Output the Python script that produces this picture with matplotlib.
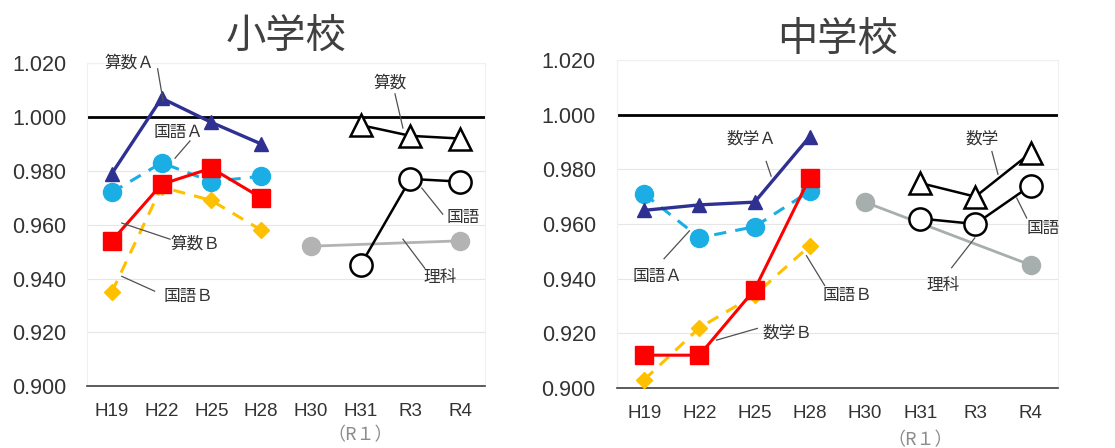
import numpy as np
import matplotlib as mpl
mpl.use("Agg")
import matplotlib.pyplot as plt
import matplotlib.transforms as mtransforms

plt.rcParams['font.family'] = ['Liberation Sans', 'Noto Sans CJK JP']

# ---- data ----
years = ["H19", "H22", "H25", "H28", "H30", "H31", "R3", "R4"]
nan = np.nan

# 小学校
es_math_a = [0.979, 1.007, 0.998, 0.990, nan, nan, nan, nan]
es_jpn_a = [0.972, 0.983, 0.976, 0.978, nan, nan, nan, nan]
es_math_b = [0.954, 0.975, 0.981, 0.970, nan, nan, nan, nan]
es_jpn_b = [0.935, 0.974, 0.969, 0.958, nan, nan, nan, nan]
es_math = [nan, nan, nan, nan, nan, 0.997, 0.993, 0.992]
es_jpn = [nan, nan, nan, nan, nan, 0.945, 0.977, 0.976]
es_sci = [nan, nan, nan, nan, 0.952, nan, nan, 0.954]

# 中学校
js_math_a = [0.965, 0.967, 0.968, 0.992, nan, nan, nan, nan]
js_jpn_a = [0.971, 0.955, 0.959, 0.972, nan, nan, nan, nan]
js_math_b = [0.912, 0.912, 0.936, 0.977, nan, nan, nan, nan]
js_jpn_b = [0.903, 0.922, 0.934, 0.952, nan, nan, nan, nan]
js_math = [nan, nan, nan, nan, nan, 0.975, 0.970, 0.986]
js_jpn = [nan, nan, nan, nan, nan, 0.962, 0.960, 0.974]
js_sci = [nan, nan, nan, nan, 0.968, nan, nan, 0.945]

NAVY = "#2e3192"
SKY = "#1aaee5"
RED = "#ff0000"
GOLD = "#ffc000"
TXT = "#404040"


def draw_series(ax, vals, **kw):
    x = np.arange(len(years))
    v = np.array(vals, dtype=float)
    m = ~np.isnan(v)
    ax.plot(x[m], v[m], **kw)


def label(ax, text, txy, p0, p1):
    ax.plot([p0[0], p1[0]], [p0[1], p1[1]], color="#505050", lw=0.9,
            zorder=6, clip_on=False)
    ax.text(txy[0], txy[1], text, ha="center", va="center", fontsize=12,
            color="#333333", family=['Liberation Sans', 'Noto Sans CJK JP'],
            zorder=7, clip_on=False)


def setup(ax, title, title_pad, r1_y):
    ax.set_xlim(-0.5, 7.5)
    ax.set_ylim(0.900, 1.020)
    ax.set_yticks(np.arange(0.900, 1.0201, 0.020))
    ax.set_yticklabels([f"{t:.3f}" for t in np.arange(0.900, 1.0201, 0.020)])
    ax.set_xticks(np.arange(len(years)))
    ax.set_xticklabels(years)
    ax.tick_params(axis="y", length=0, pad=15, labelsize=15.5, labelcolor="#333333")
    ax.tick_params(axis="x", length=0, pad=12, labelsize=13.5, labelcolor="#333333")
    ax.grid(axis="y", color="#e6e6e6", lw=0.8)
    ax.set_axisbelow(True)
    for s in ["left", "right", "top"]:
        ax.spines[s].set_color("#f0f0f0")
        ax.spines[s].set_linewidth(0.8)
    ax.spines["bottom"].set_color("#404040")
    ax.spines["bottom"].set_linewidth(1.2)
    ax.axhline(1.0, color="black", lw=2, zorder=2)
    ax.set_title(title, fontsize=29, color=TXT, pad=title_pad,
                 family=['Noto Sans CJK JP'])
    trans = mtransforms.blended_transform_factory(ax.transData, ax.transAxes)
    ax.text(5, r1_y, "（R１）", ha="center", va="center", fontsize=13,
            color="#8c8c8c", transform=trans, family=['Noto Sans CJK JP'])


def draw_block(ax, math_a, jpn_a, math_b, jpn_b, math, jpn, sci, sci_color):
    draw_series(ax, jpn_b, color=GOLD, lw=2.2, ls=(0, (4, 3)), marker="D",
                ms=8, zorder=3)
    draw_series(ax, jpn_a, color=SKY, lw=2.2, ls=(0, (4, 3)), marker="o",
                ms=13, zorder=3)
    draw_series(ax, math_b, color=RED, lw=2.2, marker="s", ms=13, zorder=4)
    draw_series(ax, math_a, color=NAVY, lw=2.4, marker="^", ms=10, zorder=5)
    draw_series(ax, sci, color=sci_color, lw=2, marker="o", ms=13, zorder=3)
    draw_series(ax, math, color="black", lw=1.8, marker="^", ms=16,
                mfc="white", mec="black", mew=1.8, zorder=4)
    draw_series(ax, jpn, color="black", lw=1.8, marker="o", ms=16,
                mfc="white", mec="black", mew=1.8, zorder=4)


fig = plt.figure(figsize=(11.15, 4.48), dpi=100)
ax1 = fig.add_axes([0.078, 0.138, 0.357, 0.721])
ax2 = fig.add_axes([0.553, 0.134, 0.396, 0.732])

setup(ax1, "小学校", 11, -0.152)
draw_block(ax1, es_math_a, es_jpn_a, es_math_b, es_jpn_b, es_math, es_jpn,
           es_sci, "#b3b3b3")
label(ax1, "算数Ａ", (0.36, 1.0201), (0.92, 1.0179), (1.03, 1.006))
label(ax1, "国語Ａ", (1.33, 0.9944), (1.57, 0.9911), (1.27, 0.9847))
label(ax1, "算数Ｂ", (1.67, 0.9531), (0.2, 0.9606), (1.17, 0.9546))
label(ax1, "国語Ｂ", (1.53, 0.9334), (0.2, 0.9408), (0.86, 0.9353))
label(ax1, "算数", (5.59, 1.0126), (5.69, 1.0086), (5.85, 0.9959))
label(ax1, "国語", (7.06, 0.9628), (6.23, 0.9736), (6.65, 0.9639))
label(ax1, "理科", (6.59, 0.9405), (5.85, 0.9546), (6.29, 0.9438))

setup(ax2, "中学校", 6, -0.158)
draw_block(ax2, js_math_a, js_jpn_a, js_math_b, js_jpn_b, js_math, js_jpn,
           js_sci, "#a7aeae")
label(ax2, "数学Ａ", (1.94, 0.9913), (2.21, 0.9829), (2.30, 0.9775))
label(ax2, "国語Ａ", (0.24, 0.9407), (0.36, 0.9473), (0.82, 0.9575))
label(ax2, "国語Ｂ", (3.68, 0.9338), (2.94, 0.9484), (3.27, 0.9375))
label(ax2, "数学Ｂ", (2.60, 0.9200), (1.31, 0.9175), (2.05, 0.9218))
label(ax2, "数学", (6.12, 0.9913), (6.30, 0.9865), (6.41, 0.9782))
label(ax2, "国語", (7.22, 0.9582), (6.75, 0.9695), (6.93, 0.9622))
label(ax2, "理科", (5.41, 0.9375), (5.57, 0.9440), (5.99, 0.9549))

fig.savefig("out.png", dpi=100)
